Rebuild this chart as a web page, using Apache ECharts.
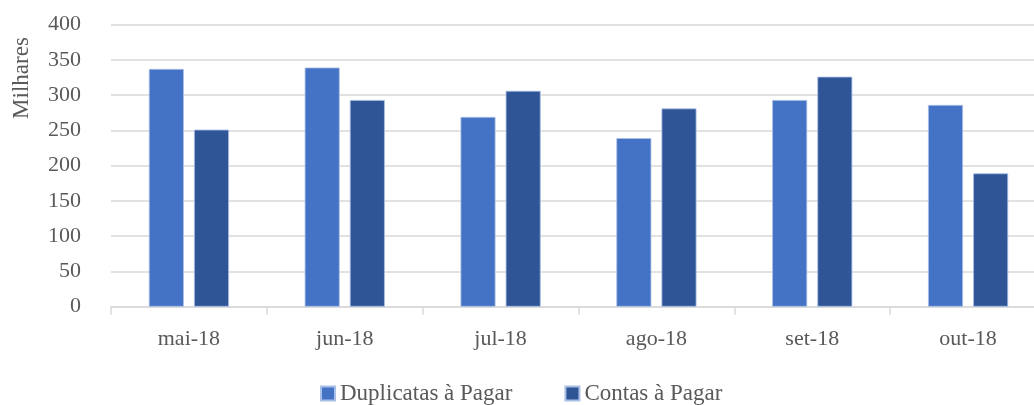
<!DOCTYPE html>
<html><head><meta charset="utf-8">
<script src="https://cdn.jsdelivr.net/npm/echarts@6/dist/echarts.min.js"></script>
<style>html,body{margin:0;padding:0;background:#fff}#c{width:1034px;height:405px}</style>
</head><body><div id="c"></div>
<script>
const categories = ['mai-18','jun-18','jul-18','ago-18','set-18','out-18'];
const duplicatas = [337, 339, 269, 239, 293, 286];
const contas = [251, 293, 306, 281, 326, 189];
const seriesNames = ['Duplicatas à Pagar', 'Contas à Pagar'];
const yTicks = {min: 0, max: 400, interval: 50};
const yTitle = 'Milhares';

const FONT = '"Liberation Serif", "DejaVu Serif", serif';
const TXT = '#595959';
const chart = echarts.init(document.getElementById('c'));
chart.setOption({
  animation: false,
  textStyle: {fontFamily: FONT},
  grid: {left: 111, width: 935, top: 24.5, bottom: 98.3, containLabel: false, outerBoundsMode: 'none'},
  legend: {
    data: seriesNames, top: 377, left: 315,
    itemWidth: 14, itemHeight: 14, itemGap: 52, icon: 'rect',
    textStyle: {fontFamily: FONT, fontSize: 23, color: TXT}
  },
  graphic: [{
    type: 'text', x: 22, y: 78, rotation: Math.PI/2,
    style: {text: yTitle, font: '23px ' + FONT, fill: TXT, textAlign: 'center', textVerticalAlign: 'middle'},
    originX: 0, originY: 0
  }],
  xAxis: {
    type: 'category', data: categories,
    axisLine: {lineStyle: {color: '#d9d9d9', width: 1.5}},
    axisTick: {show: true, length: 8, lineStyle: {color: '#d9d9d9', width: 1.5}},
    axisLabel: {fontFamily: FONT, fontSize: 22, color: TXT, margin: 22}
  },
  yAxis: {
    type: 'value', min: yTicks.min, max: yTicks.max, interval: yTicks.interval,
    axisLine: {show: false}, axisTick: {show: false},
    splitLine: {lineStyle: {color: '#d9d9d9', width: 1.5}},
    axisLabel: {fontFamily: FONT, fontSize: 22, color: TXT, margin: 30}
  },
  series: [
    {name: seriesNames[0], type: 'bar', data: duplicatas, barWidth: 35, barGap: '29%',
     itemStyle: {color: '#4472C4', borderColor: '#A9BFE6', borderWidth: 0.8}},
    {name: seriesNames[1], type: 'bar', data: contas, barWidth: 35,
     itemStyle: {color: '#2F5597', borderColor: '#A9BFE6', borderWidth: 0.8}}
  ]
});
</script></body></html>
